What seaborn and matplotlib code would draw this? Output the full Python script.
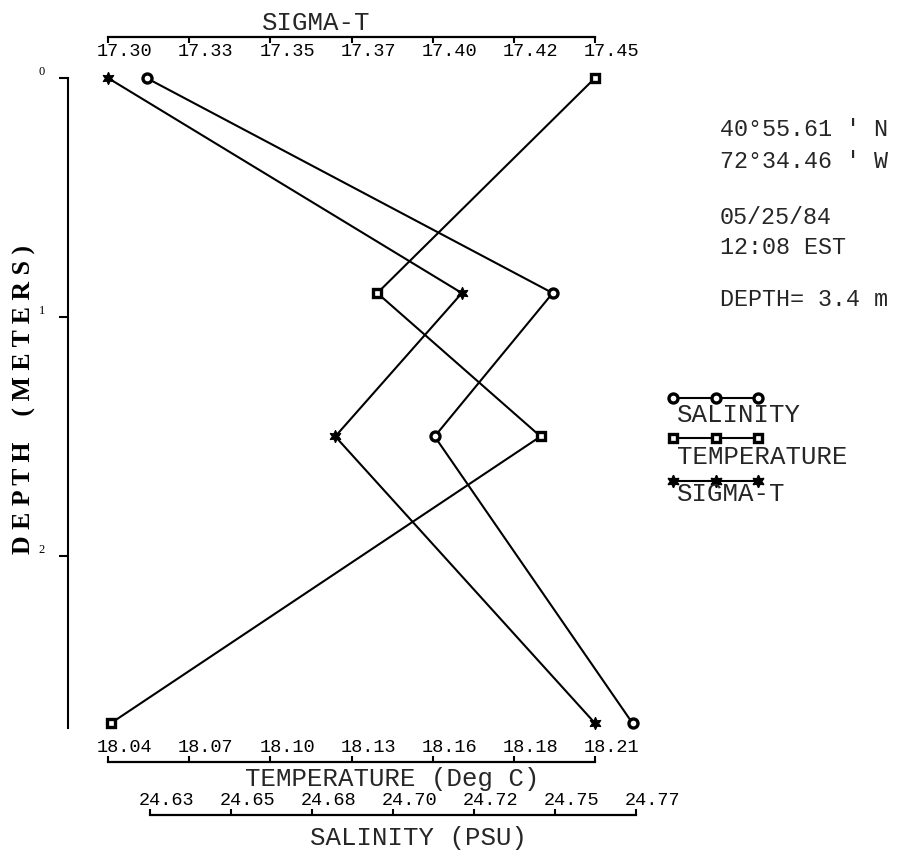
import numpy as np
import matplotlib
matplotlib.use('Agg')
import matplotlib.pyplot as plt
import matplotlib.transforms as mtransforms
import seaborn as sns
from matplotlib.lines import Line2D

# station profile
depth = [0.0, 0.9, 1.5, 2.7]
salinity = [24.629, 24.746, 24.712, 24.769]
temperature = [18.212, 18.136, 18.193, 18.043]
sigma_t = [17.300, 17.409, 17.370, 17.450]

sigma_range = (17.30, 17.45)
temp_range = (18.042, 18.212)
sal_range = (24.63, 24.77)
sigma_labels = ['17.30', '17.33', '17.35', '17.37', '17.40', '17.42', '17.45']
temp_labels = ['18.04', '18.07', '18.10', '18.13', '18.16', '18.18', '18.21']
sal_labels = ['24.63', '24.65', '24.68', '24.70', '24.72', '24.75', '24.77']
depth_ticks = [0, 1, 2]

info_lines = ["40°55.61 ' N", "72°34.46 ' W", "05/25/84", "12:08 EST", "DEPTH= 3.4 m"]

sns.set_style('white')
plt.rcParams['font.family'] = ['Liberation Mono', 'DejaVu Sans Mono']

W, H = 914, 851
L, R, T, B = 68, 640, 78, 728   # plot box in pixels


def lims(lo, hi, px_lo, px_hi):
    per = (hi - lo) / (px_hi - px_lo)
    return lo - (px_lo - L) * per, hi + (R - px_hi) * per


def fx(x):
    return x / W


def fy(y):
    return 1 - y / H


fig = plt.figure(figsize=(9.14, 8.51), dpi=100)
ax = fig.add_axes([fx(L), fy(B), (R - L) / W, (B - T) / H])
ax.patch.set_alpha(0)

ax_s = ax.twiny()
ax_t = ax.twiny()
ax_p = ax.twiny()

lw = 1.5
sns.lineplot(x=sigma_t, y=depth, ax=ax_s, sort=False, estimator=None, color='black',
             lw=lw, marker=(6, 1, 0), ms=9, mec='black', mfc='black', clip_on=False)
sns.lineplot(x=temperature, y=depth, ax=ax_t, sort=False, estimator=None, color='black',
             lw=lw, marker='s', ms=6, mec='black', mfc='white', mew=2.4, clip_on=False)
sns.lineplot(x=salinity, y=depth, ax=ax_p, sort=False, estimator=None, color='black',
             lw=lw, marker='o', ms=6.5, mec='black', mfc='white', mew=2.4, clip_on=False)

for a in (ax, ax_s, ax_t, ax_p):
    for sp in a.spines.values():
        sp.set_visible(False)
    a.set_xlabel('')
    a.set_ylabel('')

# depth axis
ax.set_ylim(2.72, 0)
ax.set_xticks([])
ax.spines['left'].set_visible(True)
ax.spines['left'].set_linewidth(1.5)
ax.spines['left'].set_color('black')
ax.set_yticks(depth_ticks)
ax.set_yticklabels([str(d) for d in depth_ticks], family='Liberation Serif')
ax.tick_params(axis='y', direction='out', length=6.5, width=1.5, pad=10, labelsize=9,
               left=True, colors='black')
for lbl in ax.get_yticklabels():
    lbl.set_va('bottom')
ax.set_ylabel('D E P T H    ( M E T E R S )', family='Liberation Serif', fontsize=18.5,
              fontweight='bold', color='black')
ax.yaxis.set_label_coords(-(L - 36) / (R - L), 1 - (400 - T) / (B - T))

shift = mtransforms.ScaledTranslation(-11 / 100, 0, fig.dpi_scale_trans)


def setup(a, rng, px_lo, px_hi, labels, side, line_y):
    a.set_xlim(*lims(rng[0], rng[1], px_lo, px_hi))
    a.xaxis.set_ticks_position(side)
    sp = a.spines[side]
    sp.set_visible(True)
    sp.set_linewidth(1.6)
    sp.set_color('black')
    if side == 'bottom':
        sp.set_position(('axes', 1 + (T - line_y) / (B - T)))
    else:
        sp.set_position(('axes', -(line_y - B) / (B - T)))
    sp.set_bounds(rng[0], rng[1])
    a.set_xticks(np.linspace(rng[0], rng[1], len(labels)))
    a.set_xticklabels(labels)
    a.tick_params(axis='x', direction='out', length=4, width=1.5, pad=0.5, labelsize=13.4,
                  colors='black')
    a.tick_params(axis='y', left=False, right=False, labelleft=False, labelright=False)
    for lbl in a.get_xticklabels():
        lbl.set_ha('left')
        lbl.set_transform(lbl.get_transform() + shift)


setup(ax_s, sigma_range, 108, 595, sigma_labels, 'bottom', 37)
setup(ax_t, temp_range, 108, 595, temp_labels, 'top', 762)
setup(ax_p, sal_range, 150, 636, sal_labels, 'top', 815)
ax.set_ylim(2.72, 0)

fig.text(fx(316), fy(23), 'SIGMA-T', ha='center', va='center', fontsize=18.5)
fig.text(fx(392), fy(779), 'TEMPERATURE (Deg C)', ha='center', va='center', fontsize=18.5)
fig.text(fx(418), fy(838), 'SALINITY (PSU)', ha='center', va='center', fontsize=18.5)

for s, y in zip(info_lines, [130, 161, 218, 247, 300]):
    fig.text(fx(720), fy(y), s, ha='left', va='center', fontsize=16.8)

# legend: sample line above each label
lax = fig.add_axes([0, 0, 1, 1])
lax.set_xlim(0, W)
lax.set_ylim(H, 0)
lax.axis('off')
leg = [('SALINITY', 'o', 6.5, 'white', 398, 415),
       ('TEMPERATURE', 's', 6, 'white', 438, 457),
       ('SIGMA-T', (6, 1, 0), 9, 'black', 481, 494)]
for name, m, ms, mfc, ly, ty in leg:
    lax.add_line(Line2D([673, 716, 758], [ly, ly, ly], color='black', lw=lw, marker=m,
                        ms=ms, mec='black', mfc=mfc, mew=2.4 if mfc == 'white' else 1))
    lax.text(677, ty, name, ha='left', va='center', fontsize=18.5)

fig.savefig('out.png', dpi=100)
